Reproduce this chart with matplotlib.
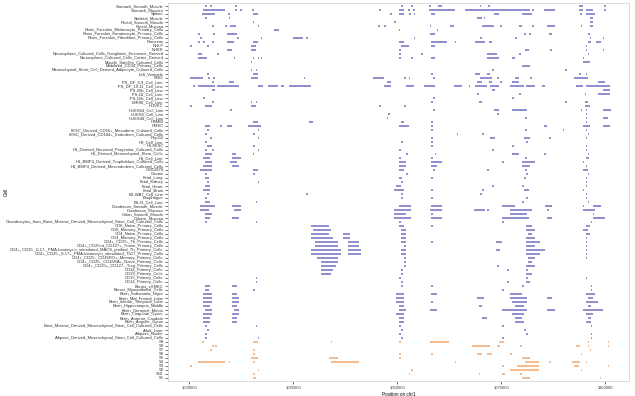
import matplotlib

matplotlib.use("Agg")

import matplotlib.pyplot as plt

# samples, top to bottom (blue track)
SAMPLES = [
    "Stomach_Smooth_Muscle", "Stomach_Mucosa", "Spleen", "Skeletal_Muscle",
    "Rectal_Smooth_Muscle", "Rectal_Mucosa",
    "Penis_Foreskin_Melanocyte_Primary_Cells", "Penis_Foreskin_Keratinocyte_Primary_Cells",
    "Penis_Foreskin_Fibroblast_Primary_Cells", "Pancreas", "NHLF", "NHEK",
    "Neurosphere_Cultured_Cells_Ganglionic_Eminence_Derived",
    "Neurosphere_Cultured_Cells_Cortex_Derived", "Muscle_Satellite_Cultured_Cells",
    "Mobilized_CD34_Primary_Cells", "Mesenchymal_Stem_Cell_Derived_Adipocyte_Cultured_Cells",
    "Left_Ventricle", "K562", "iPS_DF_6.9_Cell_Line", "iPS_DF_19.11_Cell_Line",
    "iPS-20b_Cell_Line", "iPS-18_Cell_Line", "iPS-15b_Cell_Line", "IMR90_Cell_Line",
    "HUVEC", "HUES64_Cell_Line", "HUES6_Cell_Line", "HUES48_Cell_Line", "HSMM", "HMEC",
    "hESC_Derived_CD56+_Mesoderm_Cultured_Cells", "hESC_Derived_CD184+_Endoderm_Cultured_Cells",
    "HepG2", "H9_Cell_Line", "H1-hESC", "H1_Derived_Neuronal_Progenitor_Cultured_Cells",
    "H1_Derived_Mesenchymal_Stem_Cells", "H1_Cell_Line",
    "H1_BMP4_Derived_Trophoblast_Cultured_Cells", "H1_BMP4_Derived_Mesendoderm_Cultured_Cells",
    "GM12878", "Gastric", "Fetal_Lung", "Fetal_Kidney", "Fetal_Heart", "Fetal_Brain",
    "ES-WA7_Cell_Line", "Esophagus", "ES-I3_Cell_Line", "Duodenum_Smooth_Muscle",
    "Duodenum_Mucosa", "Colon_Smooth_Muscle", "Colonic_Mucosa",
    "Chondrocytes_from_Bone_Marrow_Derived_Mesenchymal_Stem_Cell_Cultured_Cells",
    "CD8_Naive_Primary_Cells", "CD8_Memory_Primary_Cells", "CD4_Naive_Primary_Cells",
    "CD4_Memory_Primary_Cells", "CD4+_CD25-_Th_Primary_Cells",
    "CD4+_CD25int_CD127+_Tmem_Primary_Cells",
    "CD4+_CD25-_IL17-_PMA-Ionomycin_stimulated_MACS_purified_Th_Primary_Cells",
    "CD4+_CD25-_IL17+_PMA-Ionomcyin_stimulated_Th17_Primary_Cells",
    "CD4+_CD25-_CD45RO+_Memory_Primary_Cells", "CD4+_CD25-_CD45RA+_Naive_Primary_Cells",
    "CD4+_CD25+_CD127-_Treg_Primary_Cells", "CD34_Primary_Cells", "CD19_Primary_Cells",
    "CD15_Primary_Cells", "CD14_Primary_Cells", "Breast_vHMEC", "Breast_Myoepithelial_Cells",
    "Brain_Substantia_Nigra", "Brain_Mid_Frontal_Lobe", "Brain_Inferior_Temporal_Lobe",
    "Brain_Hippocampus_Middle", "Brain_Germinal_Matrix", "Brain_Cingulate_Gyrus",
    "Brain_Anterior_Caudate", "Brain_Angular_Gyrus",
    "Bone_Marrow_Derived_Mesenchymal_Stem_Cell_Cultured_Cells", "Adult_Liver",
    "Adipose_Nuclei", "Adipose_Derived_Mesenchymal_Stem_Cell_Cultured_Cells",
]

# peaks per sample (start, end) in kb, same order as SAMPLES
PEAKS = [
    [(1003.7, 1004.1), (1004.9, 1005.3), (1011.0, 1011.4), (1050.9, 1051.3), (1053.3, 1053.7),
     (1057.7, 1058.1), (1059.9, 1060.7), (1069.8, 1070.2), (1071.9, 1072.3), (1093.8, 1094.6),
     (1099.8, 1100.2)],
    [(1003.3, 1008.6), (1011.0, 1011.4), (1012.2, 1012.6), (1015.1, 1015.5), (1045.7, 1046.1),
     (1050.5, 1051.5), (1052.6, 1053.0), (1053.8, 1054.2), (1057.5, 1063.8), (1066.2, 1082.0),
     (1082.4, 1082.8), (1085.4, 1088.0), (1093.8, 1094.6), (1095.3, 1097.0), (1099.8, 1100.2)],
    [(1003.1, 1006.2), (1009.3, 1009.7), (1015.2, 1016.4), (1048.2, 1048.6), (1050.5, 1051.7),
     (1052.9, 1053.3), (1053.9, 1054.3), (1058.2, 1059.0), (1073.3, 1074.5), (1080.0, 1082.5),
     (1094.0, 1094.4), (1095.3, 1097.5)],
    [(1003.8, 1004.2), (1009.4, 1009.8), (1069.2, 1070.4), (1070.8, 1071.2), (1096.3, 1097.0)],
    [(1015.2, 1015.6), (1049.3, 1049.7), (1096.3, 1097.0)],
    [(1005.5, 1005.9), (1008.6, 1009.0), (1009.8, 1011.1), (1016.4, 1016.8), (1045.4, 1045.8),
     (1046.9, 1047.3), (1057.8, 1058.2), (1062.6, 1063.6), (1070.4, 1073.3), (1074.7, 1075.1),
     (1079.3, 1080.0), (1082.5, 1082.9), (1086.1, 1088.0), (1094.1, 1094.5), (1096.3, 1097.0)],
    [(1020.3, 1021.5), (1050.3, 1050.7), (1059.5, 1059.9)],
    [(1002.1, 1002.5), (1005.7, 1006.1), (1009.1, 1011.5), (1057.8, 1059.0), (1080.5, 1080.9),
     (1081.7, 1082.1), (1086.6, 1087.3), (1095.8, 1096.3)],
    [(1002.6, 1003.0), (1011.5, 1011.9), (1017.1, 1017.5), (1024.9, 1027.3), (1028.0, 1028.4),
     (1053.9, 1054.3), (1069.9, 1070.3), (1078.4, 1078.8), (1096.3, 1096.7), (1099.4, 1099.8)],
    [(1002.1, 1002.5), (1003.3, 1003.7), (1005.5, 1005.9), (1009.1, 1010.6), (1015.2, 1016.6),
     (1050.5, 1051.5), (1058.2, 1061.9), (1063.8, 1064.2), (1068.7, 1071.1), (1072.0, 1072.8),
     (1095.8, 1096.5), (1097.7, 1098.9)],
    [(1000.2, 1000.6), (1004.3, 1004.7), (1014.7, 1015.9), (1051.0, 1052.9), (1058.2, 1059.0),
     (1095.3, 1095.7)],
    [(1009.1, 1010.3), (1014.7, 1015.9), (1050.5, 1050.9), (1080.8, 1081.7), (1086.8, 1087.2),
     (1095.3, 1095.7), (1099.4, 1099.8)],
    [(1002.1, 1003.1), (1006.7, 1007.1), (1050.5, 1050.9), (1055.8, 1056.2), (1071.6, 1074.0),
     (1079.3, 1079.7), (1095.8, 1096.2)],
    [(1002.1, 1004.3), (1010.6, 1011.0), (1015.2, 1015.6), (1016.4, 1016.8), (1017.1, 1017.5),
     (1050.5, 1050.9), (1053.4, 1053.8), (1058.2, 1059.0), (1071.6, 1074.5), (1077.6, 1078.4),
     (1094.6, 1095.0)],
    [(1014.7, 1015.1), (1094.6, 1096.3)],
    [(1080.0, 1082.0)],
    [(1014.7, 1015.1), (1015.9, 1016.3), (1072.8, 1073.2), (1090.4, 1090.8)],
    [(1004.3, 1004.7), (1015.2, 1016.4), (1058.2, 1058.6), (1068.7, 1069.9), (1071.6, 1072.3),
     (1093.8, 1094.2), (1095.3, 1095.7)],
    [(1000.2, 1003.3), (1004.5, 1004.9), (1005.7, 1006.1), (1014.7, 1016.4), (1027.5, 1027.9),
     (1044.2, 1046.9), (1051.7, 1052.1), (1052.7, 1053.1), (1058.7, 1059.1), (1069.9, 1072.8),
     (1074.0, 1074.4), (1078.4, 1079.3), (1082.0, 1082.4), (1092.6, 1095.8)],
    [(1005.5, 1005.9), (1009.4, 1010.6), (1047.4, 1048.5), (1069.2, 1070.4), (1072.0, 1072.8),
     (1074.7, 1075.2), (1077.6, 1079.3), (1098.2, 1099.9)],
    [(1000.9, 1001.3), (1002.1, 1006.2), (1006.7, 1011.8), (1016.4, 1017.6), (1019.0, 1021.2),
     (1021.9, 1022.7), (1023.9, 1029.2), (1046.9, 1048.5), (1052.2, 1054.1), (1056.5, 1059.0),
     (1063.6, 1065.5), (1067.2, 1067.6), (1068.7, 1071.6), (1072.3, 1074.5), (1077.1, 1080.5),
     (1081.0, 1083.2), (1084.9, 1085.6), (1092.9, 1094.6), (1095.3, 1101.1)],
    [(1005.5, 1006.2), (1072.8, 1073.5), (1099.4, 1101.1)],
    [(1069.2, 1069.6), (1079.3, 1079.7), (1095.1, 1095.5), (1098.2, 1101.1)],
    [(1003.3, 1003.7), (1058.7, 1059.1), (1077.6, 1078.0)],
    [(1005.5, 1005.9), (1014.7, 1015.1), (1015.9, 1016.3), (1058.2, 1058.6), (1069.6, 1070.4),
     (1090.4, 1090.8), (1095.1, 1095.8)],
    [(1000.2, 1000.6), (1003.8, 1005.5), (1014.7, 1015.9), (1045.7, 1046.1), (1051.5, 1052.2),
     (1095.1, 1096.3)],
    [(1009.8, 1010.2), (1058.7, 1059.1), (1073.3, 1074.5), (1077.6, 1081.2), (1094.1, 1094.5),
     (1095.3, 1095.7), (1099.4, 1101.4)],
    [(1047.8, 1048.2), (1074.0, 1074.4), (1095.3, 1095.7)],
    [(1047.4, 1047.8), (1080.8, 1081.2), (1095.3, 1095.7), (1099.4, 1100.6)],
    [(1015.2, 1016.4), (1028.7, 1029.7), (1051.0, 1051.7), (1058.2, 1058.6), (1095.3, 1095.7)],
    [(1003.8, 1005.0), (1007.4, 1007.8), (1009.1, 1010.3), (1014.0, 1017.1), (1050.5, 1052.9),
     (1058.2, 1058.6), (1085.4, 1086.1), (1094.6, 1096.3), (1099.4, 1101.1)],
    # hESC CD56+ mesoderm
    [(1004.3, 1004.7), (1016.4, 1016.8), (1058.2, 1058.6), (1080.8, 1081.2), (1089.8, 1090.2),
     (1095.3, 1095.7)],
    # hESC CD184+ endoderm
    [(1003.8, 1004.2), (1015.4, 1015.8), (1064.3, 1064.7), (1070.4, 1070.8), (1095.8, 1096.2)],
    # HepG2
    [(1005.0, 1005.4), (1016.4, 1016.8), (1058.2, 1058.6), (1072.3, 1073.5), (1080.5, 1082.0),
     (1086.6, 1087.0), (1095.3, 1095.7)],
    # H9
    [(1003.8, 1004.2), (1051.0, 1051.4), (1058.2, 1058.6), (1081.0, 1081.4)],
    # H1-hESC
    [(1004.3, 1005.5), (1015.4, 1015.8), (1058.2, 1058.6), (1077.6, 1078.0), (1095.3, 1095.7)],
    # H1 NPC
    [(1003.8, 1004.2), (1005.5, 1005.9), (1016.4, 1016.8), (1050.5, 1050.9), (1072.8, 1073.2),
     (1095.3, 1095.7)],
    # H1 MSC
    [(1003.8, 1005.5), (1010.3, 1011.1), (1015.2, 1015.6), (1052.2, 1052.6), (1059.0, 1059.4),
     (1077.6, 1079.3), (1085.4, 1085.8), (1095.8, 1096.2)],
    # H1
    [(1003.3, 1005.0), (1010.3, 1012.3), (1050.5, 1051.0), (1058.2, 1058.6), (1080.8, 1081.2),
     (1095.3, 1096.0)],
    # H1 BMP4 troph
    [(1003.8, 1005.5), (1009.8, 1011.5), (1050.5, 1052.2), (1058.2, 1060.7), (1075.2, 1075.6),
     (1080.0, 1083.2), (1094.6, 1095.0)],
    # H1 BMP4 mesend
    [(1003.3, 1005.5), (1010.3, 1011.8), (1050.5, 1052.2), (1058.2, 1059.5), (1080.0, 1082.0),
     (1095.3, 1095.7)],
    # GM12878
    [(1002.6, 1005.5), (1015.2, 1016.4), (1050.5, 1051.5), (1058.7, 1059.1), (1071.6, 1072.0),
     (1080.8, 1081.2), (1094.6, 1095.8)],
    # Gastric
    [(1003.8, 1004.2), (1015.4, 1015.8), (1052.2, 1052.6), (1081.0, 1081.4), (1095.8, 1096.2)],
    # Fetal lung
    [(1003.8, 1004.6), (1050.5, 1051.1), (1058.2, 1058.6), (1080.5, 1080.9), (1095.3, 1095.7)],
    # Fetal kidney
    [(1004.3, 1004.7), (1016.4, 1016.8), (1051.0, 1051.4), (1095.3, 1095.7)],
    # Fetal heart
    [(1003.8, 1005.0), (1049.8, 1051.0), (1072.8, 1073.2), (1080.0, 1080.4), (1095.3, 1095.7)],
    # Fetal brain
    [(1003.3, 1005.0), (1049.3, 1051.5), (1058.2, 1058.6), (1070.4, 1070.8), (1080.5, 1081.7),
     (1094.6, 1095.0)],
    # ES-WA7
    [(1004.3, 1004.7), (1028.0, 1028.4), (1051.0, 1051.4), (1069.9, 1070.3), (1095.3, 1095.7)],
    # Esophagus
    [(1003.8, 1004.2), (1051.0, 1051.4), (1058.2, 1058.6), (1081.0, 1081.4), (1095.3, 1095.7)],
    # ES-I3
    [(1003.8, 1005.0), (1015.9, 1016.3), (1080.0, 1080.4), (1095.8, 1096.2)],
    # Duodenum SM
    [(1002.6, 1006.2), (1010.3, 1012.3), (1050.5, 1053.4), (1058.2, 1060.7), (1075.2, 1078.4),
     (1085.6, 1087.3), (1094.6, 1095.0), (1097.0, 1098.9)],
    # Duodenum mucosa
    [(1002.6, 1004.6), (1010.6, 1012.3), (1049.3, 1053.4), (1057.8, 1060.7), (1068.4, 1071.1),
     (1071.6, 1072.0), (1077.1, 1082.5), (1086.1, 1086.5), (1094.6, 1097.5)],
    # Colon SM
    [(1003.8, 1005.5), (1049.3, 1052.2), (1058.2, 1058.6), (1077.1, 1081.2), (1097.0, 1097.4)],
    # Colonic mucosa
    [(1003.8, 1005.0), (1010.3, 1011.8), (1049.3, 1053.4), (1058.2, 1060.7), (1075.2, 1081.7),
     (1086.1, 1087.3), (1097.0, 1099.9)],
    # Chondrocytes
    [(1003.8, 1004.2), (1015.9, 1016.3), (1050.5, 1050.9), (1075.2, 1075.6), (1096.5, 1096.9)],
    # CD8 naive
    [(1029.2, 1033.6), (1050.5, 1051.7), (1058.2, 1058.6), (1081.0, 1082.5), (1095.3, 1096.3)],
    # CD8 memory
    [(1029.7, 1034.0), (1051.0, 1052.2), (1081.0, 1083.2), (1094.6, 1095.8)],
    # CD4 naive
    [(1029.2, 1033.6), (1036.9, 1038.6), (1051.0, 1052.2), (1081.5, 1082.5), (1095.3, 1096.3)],
    # CD4 memory
    [(1029.2, 1034.5), (1036.9, 1038.6), (1051.0, 1052.2), (1081.0, 1083.2), (1095.3, 1095.7)],
    # CD4+ CD25- Th
    [(1030.2, 1035.7), (1038.1, 1040.8), (1051.0, 1052.2), (1058.2, 1058.6), (1073.8, 1075.2),
     (1081.0, 1084.4), (1095.3, 1095.7)],
    # CD4+ CD25int Tmem
    [(1030.2, 1035.7), (1038.1, 1040.8), (1051.5, 1052.2), (1081.0, 1083.2), (1095.3, 1095.7)],
    # MACS Th
    [(1029.2, 1036.4), (1038.1, 1041.3), (1051.0, 1052.2), (1073.8, 1074.6), (1081.0, 1085.6),
     (1095.3, 1095.7)],
    # Th17
    [(1029.2, 1036.4), (1038.1, 1041.3), (1051.0, 1052.2), (1081.0, 1084.4), (1095.3, 1095.7)],
    # CD45RO memory
    [(1030.7, 1035.7), (1051.5, 1052.2), (1081.5, 1083.2), (1095.3, 1095.7)],
    # CD45RA naive
    [(1031.6, 1035.7), (1051.5, 1052.2), (1081.5, 1082.5)],
    # Treg
    [(1031.6, 1035.2), (1051.5, 1052.2), (1074.0, 1074.4), (1081.0, 1083.2)],
    # CD34 primary
    [(1031.6, 1034.5), (1051.0, 1051.4), (1076.4, 1076.8), (1081.0, 1081.4)],
    # CD19
    [(1031.6, 1034.0), (1051.0, 1051.4), (1081.0, 1082.5)],
    # CD15
    [(1015.9, 1016.3), (1050.5, 1050.9), (1081.0, 1081.4), (1095.3, 1095.7)],
    # CD14
    [(1015.9, 1016.3), (1051.0, 1051.4), (1076.4, 1076.8), (1081.0, 1082.0)],
    # Breast vHMEC
    [(1003.8, 1005.0), (1010.3, 1011.5), (1051.0, 1051.4), (1058.2, 1058.6), (1080.0, 1080.4),
     (1096.5, 1096.9)],
    # Breast myoepithelial
    [(1003.8, 1004.6), (1015.4, 1015.8), (1075.2, 1075.6), (1096.5, 1096.9)],
    # Brain SN
    [(1003.3, 1005.5), (1010.3, 1011.5), (1049.8, 1051.5), (1058.2, 1059.5), (1077.1, 1080.0),
     (1095.3, 1097.5)],
    # Brain MFL
    [(1003.3, 1005.5), (1010.3, 1011.8), (1049.8, 1051.5), (1069.2, 1070.8), (1077.1, 1081.2),
     (1086.1, 1087.3), (1095.8, 1097.0)],
    # Brain ITL
    [(1003.3, 1005.5), (1010.3, 1011.8), (1049.8, 1051.5), (1058.2, 1058.6), (1077.6, 1081.2),
     (1095.3, 1098.2)],
    # Brain HM
    [(1003.3, 1005.0), (1010.3, 1011.5), (1050.5, 1051.7), (1069.6, 1070.4), (1078.4, 1080.5),
     (1095.8, 1096.5)],
    # Brain GM
    [(1003.8, 1005.5), (1010.6, 1011.8), (1050.5, 1052.2), (1057.8, 1059.5), (1075.2, 1081.2),
     (1086.1, 1088.0), (1094.6, 1099.4)],
    # Brain CG
    [(1003.3, 1005.5), (1010.3, 1011.8), (1049.8, 1051.5), (1077.6, 1080.5), (1095.3, 1097.0)],
    # Brain AC
    [(1003.3, 1005.0), (1010.3, 1011.5), (1050.5, 1051.7), (1070.4, 1071.6), (1078.4, 1080.0),
     (1095.8, 1096.5)],
    # Brain AG
    [(1003.3, 1005.0), (1010.3, 1011.5), (1050.5, 1051.5), (1078.4, 1080.5), (1095.3, 1096.5)],
    # Bone marrow MSC
    [(1003.8, 1004.2), (1015.9, 1016.3), (1050.5, 1050.9), (1075.2, 1075.6), (1096.5, 1096.9)],
    # Adult liver
    [(1004.3, 1004.7), (1051.0, 1051.4), (1080.5, 1080.9)],
    # Adipose nuclei
    [(1003.8, 1004.2), (1050.5, 1050.9), (1081.0, 1081.4), (1096.5, 1096.9)],
    # Adipose derived MSC
    [(1003.8, 1004.2), (1016.4, 1016.8), (1051.0, 1051.4), (1075.2, 1075.6), (1096.5, 1096.9)],
]

# orange track, top to bottom
SAMPLE_IDS = ["S9", "S8", "S7", "S6", "S5", "S4", "S3", "S2", "S10", "S1"]
ID_PEAKS = [
    [(1003.0, 1003.4), (1015.2, 1016.6), (1034.0, 1034.4), (1050.5, 1050.9), (1057.8, 1062.4),
     (1074.5, 1075.7), (1095.8, 1096.2), (1100.6, 1101.0)],
    [(1005.5, 1005.9), (1006.2, 1006.6), (1068.0, 1072.3), (1074.0, 1074.6), (1079.5, 1079.9),
     (1092.9, 1093.9), (1095.8, 1096.2), (1100.6, 1101.0)],
    [(1005.0, 1005.4), (1015.4, 1015.8), (1096.3, 1096.7)],
    [(1015.4, 1015.8), (1050.5, 1050.9), (1058.2, 1058.6), (1069.2, 1070.4), (1071.6, 1072.8),
     (1077.1, 1077.5), (1094.1, 1094.5)],
    [(1014.7, 1016.4), (1033.6, 1035.7), (1050.5, 1050.9), (1080.0, 1082.0)],
    [(1002.1, 1008.6), (1009.4, 1009.8), (1015.4, 1015.8), (1034.0, 1040.8), (1063.8, 1064.2),
     (1080.8, 1084.2), (1086.6, 1087.0), (1092.1, 1093.9), (1095.3, 1095.7)],
    [(1000.2, 1000.6), (1075.2, 1075.6), (1078.8, 1084.2), (1092.4, 1093.6), (1100.6, 1101.0)],
    [(1016.4, 1016.8), (1053.4, 1053.8), (1077.1, 1084.2), (1094.1, 1094.5)],
    [(1015.4, 1015.8), (1052.7, 1053.1), (1069.6, 1070.0), (1075.2, 1075.9), (1079.5, 1079.9)],
    [(1015.2, 1015.9), (1080.0, 1082.0), (1098.7, 1099.1)],
]

BLUE = "#7676c2"
ORANGE = "#f7ad72"

TICKS = [1000000, 1025000, 1050000, 1075000, 1100000]


def main():
    plt.rcParams.update({"font.family": "Liberation Sans"})
    fig = plt.figure(figsize=(6.35, 3.96), dpi=100)
    ax = fig.add_axes([0.265, 0.038, 0.726, 0.955])

    rows = SAMPLES + SAMPLE_IDS
    n = len(rows)
    for i, peaks in enumerate(PEAKS):
        y = n - 1 - i
        ax.hlines([y] * len(peaks), [p[0] * 1000 for p in peaks], [p[1] * 1000 for p in peaks],
                  color=BLUE, linewidth=1.15, capstyle="butt")
    for j, peaks in enumerate(ID_PEAKS):
        y = n - 1 - len(SAMPLES) - j
        ax.hlines([y] * len(peaks), [p[0] * 1000 for p in peaks], [p[1] * 1000 for p in peaks],
                  color=ORANGE, linewidth=1.15, capstyle="butt")

    ax.set_xlim(994900, 1105800)
    ax.set_ylim(-0.75, n - 0.25)
    ax.set_yticks(range(n))
    ax.set_yticklabels(rows[::-1], fontsize=3.0, color="#333333")
    ax.set_xticks(TICKS)
    ax.set_xticklabels([str(t) for t in TICKS], fontsize=3.0, color="#333333")
    ax.tick_params(axis="both", length=2.2, width=0.5, color="#444444", pad=1.2)
    ax.set_xlabel("Position on chr1", fontsize=3.3, labelpad=1.5)
    ax.set_ylabel("Cell", fontsize=3.3, labelpad=2)
    ax.yaxis.set_label_coords(-0.345, 0.5)
    for side in ["top", "right", "left", "bottom"]:
        ax.spines[side].set_color("#d4d4d4")
        ax.spines[side].set_linewidth(0.6)

    fig.savefig("out.png", dpi=100)
    plt.close(fig)


if __name__ == "__main__":
    main()
